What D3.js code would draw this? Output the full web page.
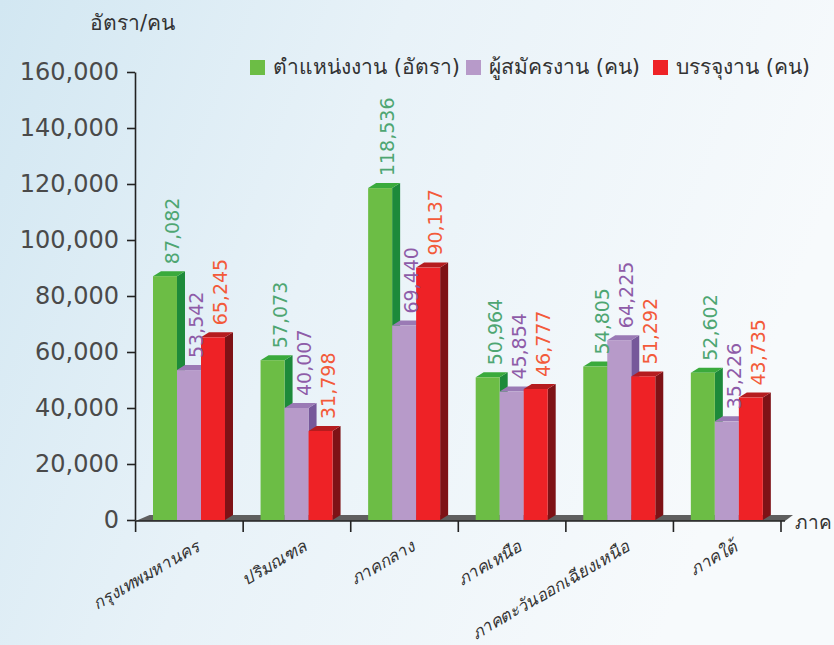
<!DOCTYPE html>
<html>
<head>
<meta charset="utf-8">
<script src="https://cdn.jsdelivr.net/npm/d3@7"></script>
<style>
  body { margin: 0; }
  svg { display: block; font-family: "DejaVu Sans", "Noto Sans", sans-serif; }
</style>
</head>
<body>
<script>
// data
var categories = ["กรุงเทพมหานคร", "ปริมณฑล", "ภาคกลาง", "ภาคเหนือ", "ภาคตะวันออกเฉียงเหนือ", "ภาคใต้"];
var positions  = [87082, 57073, 118536, 50964, 54805, 52602];
var applicants = [53542, 40007, 69440, 45854, 64225, 35226];
var placements = [65245, 31798, 90137, 46777, 51292, 43735];
var seriesNames = ["ตำแหน่งงาน (อัตรา)", "ผู้สมัครงาน (คน)", "บรรจุงาน (คน)"];
var yTicks = [0, 20000, 40000, 60000, 80000, 100000, 120000, 140000, 160000];

var width = 834, height = 645;
var depthX = 8, depthY = 5;

var colors = [
    {front: "#6cbd45", side: "#1d8a3a", top: "#3aaa3c", label: "#4ea672"},
    {front: "#b79ac9", side: "#76589a", top: "#9a7ab5", label: "#8e5ca8"},
    {front: "#ee2226", side: "#7e1216", top: "#b51c1f", label: "#f35a3a"}
];

var series = [positions, applicants, placements];

const svg = d3.select("body")
    .append("svg")
    .attr("width", width)
    .attr("height", height);

// background gradient
var grad = svg.append("defs").append("linearGradient")
    .attr("id", "bg")
    .attr("x1", "0").attr("y1", "0").attr("x2", "1").attr("y2", "0.3");
grad.append("stop").attr("offset", "0").attr("stop-color", "#d2e7f2");
grad.append("stop").attr("offset", "0.45").attr("stop-color", "#e8f2f8");
grad.append("stop").attr("offset", "1").attr("stop-color", "#f7fafc");
svg.append("rect").attr("width", width).attr("height", height).attr("fill", "url(#bg)");

var x0 = d3.scaleBand()
    .domain(categories)
    .range([135.6, 781]);

var x1 = d3.scaleBand()
    .domain([0, 1, 2])
    .range([17.4, 17.4 + 72]);

var y = d3.scaleLinear()
    .domain([0, 160000])
    .range([520, 72]);

// floor
var xl = x0.range()[0], xr = x0.range()[1] + 4;
svg.append("path")
    .attr("d", `M${xl},${y(0) + 1}L${xl + depthX + 6},${y(0) - depthY}L${xr + depthX},${y(0) - depthY}L${xr},${y(0) + 1}Z`)
    .attr("fill", "#5f5f5f");

// y-axis
svg.append("g")
    .attr("transform", "translate(135,0)")
    .call(d3.axisLeft(y).tickValues(yTicks).tickSize(8).tickSizeOuter(0).tickPadding(8)
        .tickFormat(d3.format(",")))
    .call(g => g.select(".domain").attr("stroke", "#222").attr("stroke-width", 1.6))
    .call(g => g.selectAll(".tick line").attr("stroke", "#222").attr("stroke-width", 1.6))
    .call(g => g.selectAll(".tick text")
        .attr("font-size", 24)
        .attr("font-family", "DejaVu Sans, sans-serif")
        .attr("fill", "#4a4a4a"));

// x-axis baseline and boundary ticks
var bounds = categories.map(d => x0(d)).concat([x0.range()[1]]);
svg.append("line")
    .attr("x1", 135).attr("x2", xr)
    .attr("y1", y(0) + 1).attr("y2", y(0) + 1)
    .attr("stroke", "#222").attr("stroke-width", 1.6);
svg.append("g").selectAll("line")
    .data(bounds)
    .join("line")
    .attr("x1", d => d).attr("x2", d => d)
    .attr("y1", y(0) + 1).attr("y2", y(0) + 12)
    .attr("stroke", "#222").attr("stroke-width", 1.6);

// bars
var groups = svg.append("g").selectAll("g")
    .data(categories)
    .join("g")
    .attr("transform", d => `translate(${x0(d)},0)`);

// draw in order so the side faces overlap correctly
[0, 1, 2].forEach(function(s) {
    var bw = x1.bandwidth();
    var bar = groups.append("g");
    bar.append("path")
        .attr("d", (d, i) => {
            var xa = x1(s) + bw, yt = y(series[s][i]), yb = y(0);
            return `M${xa},${yt}L${xa + depthX},${yt - depthY}L${xa + depthX},${yb - depthY}L${xa},${yb}Z`;
        })
        .attr("fill", colors[s].side);
    bar.append("path")
        .attr("d", (d, i) => {
            var xa = x1(s), yt = y(series[s][i]);
            return `M${xa},${yt}L${xa + depthX},${yt - depthY}L${xa + bw + depthX},${yt - depthY}L${xa + bw},${yt}Z`;
        })
        .attr("fill", colors[s].top);
    bar.append("rect")
        .attr("x", x1(s))
        .attr("y", (d, i) => y(series[s][i]))
        .attr("width", bw)
        .attr("height", (d, i) => y(0) - y(series[s][i]))
        .attr("fill", colors[s].front);
});

// value labels
[0, 1, 2].forEach(function(s) {
    groups.append("text")
        .attr("transform", (d, i) =>
            `translate(${x1(s) + x1.bandwidth() / 2 + 14},${y(series[s][i]) - 12}) rotate(-90)`)
        .attr("font-size", 19)
        .attr("font-family", "DejaVu Sans, sans-serif")
        .attr("fill", colors[s].label)
        .text((d, i) => d3.format(",")(series[s][i]));
});

// category labels
svg.append("g").selectAll("text")
    .data(categories)
    .join("text")
    .attr("transform", d => `translate(${x0(d) + x0.bandwidth() / 2 + 11},${550}) rotate(-30)`)
    .attr("text-anchor", "end")
    .attr("font-size", 17)
    .attr("font-style", "italic")
    .attr("fill", "#333")
    .text(d => d);

// axis titles
svg.append("text")
    .attr("x", 90).attr("y", 30)
    .attr("font-size", 21)
    .attr("fill", "#333")
    .text("อัตรา/คน");

svg.append("text")
    .attr("x", 795).attr("y", 529)
    .attr("font-size", 19)
    .attr("fill", "#333")
    .text("ภาค");

// legend
var legendX = [250, 466, 653];
var legend = svg.append("g").selectAll("g")
    .data(seriesNames)
    .join("g")
    .attr("transform", (d, i) => `translate(${legendX[i]},60)`);
legend.append("rect")
    .attr("width", 15).attr("height", 15)
    .attr("fill", (d, i) => colors[i].front);
legend.append("text")
    .attr("x", 23).attr("y", 14)
    .attr("font-size", 21)
    .attr("fill", "#333")
    .text(d => d);
</script>
</body>
</html>
